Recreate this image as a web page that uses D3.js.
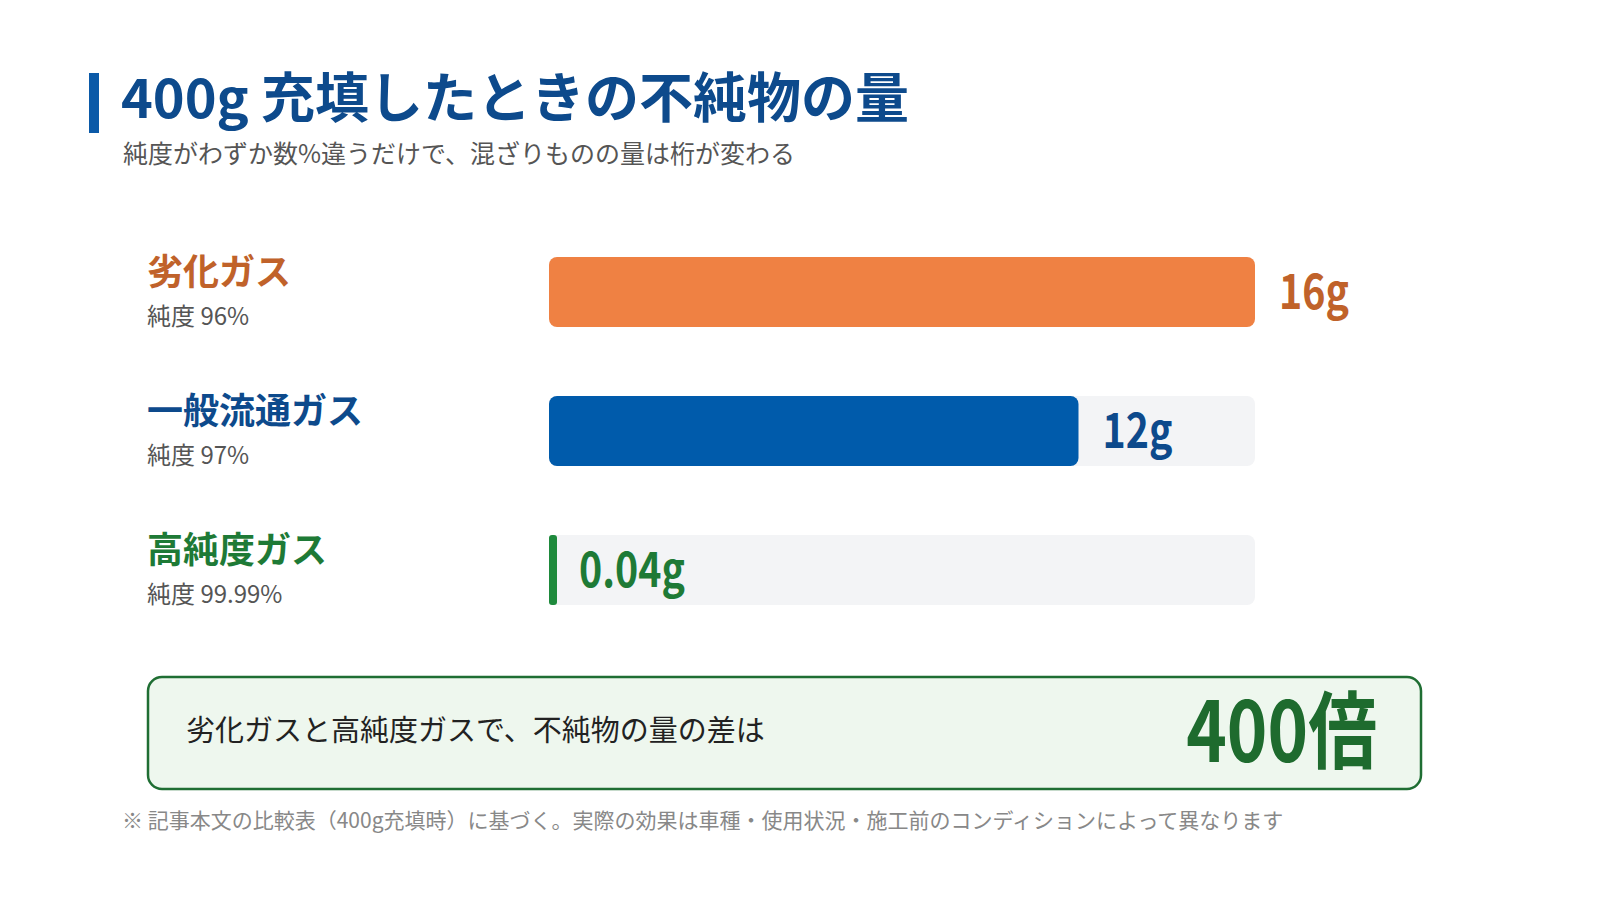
<!DOCTYPE html>
<html><head><meta charset="utf-8">
<script src="https://cdn.jsdelivr.net/npm/d3@7"></script>
<style>body{margin:0;background:#fff}text{font-family:"Noto Sans CJK JP","Noto Sans",sans-serif}</style>
</head><body><svg id="c" width="1600" height="900"></svg>
<script>
const categories=["劣化ガス","一般流通ガス","高純度ガス"];
const purities=["純度 96%","純度 97%","純度 99.99%"];
const impurity=[16,12,0.04];
const valueLabels=["16g","12g","0.04g"];
const barColors=["#ef8143","#005bab","#1e8a3c"];
const labelColors=["#c0622a","#0d4a8c","#1e7a36"];

const svg=d3.select("#c");
svg.append("rect").attr("x",89).attr("y",73).attr("width",10).attr("height",60).attr("fill","#0b5aa8");
svg.append("text").attr("x",121).attr("y",118).attr("font-size",54).attr("font-weight",700).attr("fill","#0d4a8c").text("400g 充填したときの不純物の量");
svg.append("text").attr("x",123).attr("y",163).attr("font-size",25).attr("fill","#555").text("純度がわずか数%違うだけで、混ざりものの量は桁が変わる");

const x=d3.scaleLinear().domain([0,16]).range([0,706]);
const y=d3.scaleBand().domain(categories).range([257,675]).paddingInner(0.5);
const bh=70;
categories.forEach((c,i)=>{
  const y0=257+i*139;
  const g=svg.append("g");
  g.append("text").attr("x",147).attr("y",y0+28).attr("font-size",36).attr("font-weight",700).attr("fill",labelColors[i]).text(c);
  g.append("text").attr("x",147).attr("y",y0+68).attr("font-size",24).attr("fill","#555").text(purities[i]);
  if(i>0) g.append("rect").attr("x",549).attr("y",y0).attr("width",x(16)).attr("height",bh).attr("rx",8).attr("fill","#f3f4f6");
  const w=Math.max(x(impurity[i]),8);
  g.append("rect").attr("x",549).attr("y",y0).attr("width",w).attr("height",bh).attr("rx",i==2?3:8).attr("fill",barColors[i]);
  const lx=549+w+(i==2?22:24);
  g.append("text").attr("transform",`translate(${lx},${y0+52}) scale(0.82,1)`).attr("font-size",48).attr("font-weight",700).attr("fill",labelColors[i]).text(valueLabels[i]);
});
svg.append("rect").attr("x",148).attr("y",677).attr("width",1273).attr("height",112).attr("rx",14).attr("fill","#eef7ee").attr("stroke","#1f6e33").attr("stroke-width",2.5);
svg.append("text").attr("x",186).attr("y",741).attr("font-size",29).attr("fill","#222").text("劣化ガスと高純度ガスで、不純物の量の差は");
svg.append("text").attr("transform","translate(1377,762) scale(0.82,1)").attr("text-anchor","end").attr("font-size",84).attr("font-weight",700).attr("fill","#1e6b2e").text((impurity[0]/impurity[2]).toFixed(0)+"倍");
svg.append("text").attr("x",122).attr("y",828).attr("font-size",21).attr("fill","#888").text("※ 記事本文の比較表（400g充填時）に基づく。実際の効果は車種・使用状況・施工前のコンディションによって異なります");
</script></body></html>
